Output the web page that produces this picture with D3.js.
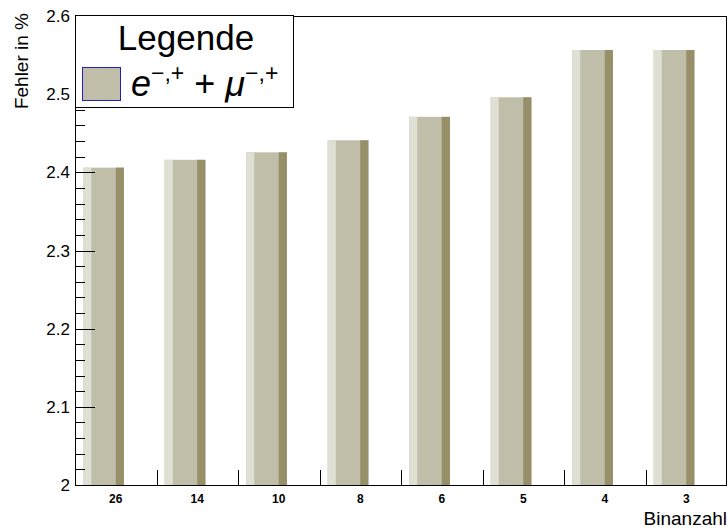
<!DOCTYPE html>
<html>
<head>
<meta charset="utf-8">
<script src="https://cdn.jsdelivr.net/npm/d3@7"></script>
<style>
  body { margin: 0; background: #fff; }
  svg { display: block; font-family: "Liberation Sans", Arial, sans-serif; }
</style>
</head>
<body>
<div id="chart"></div>
<script>
// data
var bins = ['26', '14', '10', '8', '6', '5', '4', '3'];
var fehler = [2.406, 2.416, 2.4256, 2.441, 2.471, 2.496, 2.5565, 2.5565];
var yTicks = [2, 2.1, 2.2, 2.3, 2.4, 2.5, 2.6];

var w = 728, h = 529;
var pL = 75, pR = 727, pT = 16, pB = 485;

var cMain = 'rgb(192,190,168)';
var cLight = 'rgb(223,223,212)';
var cDark = 'rgb(150,143,104)';

var svg = d3.select('#chart').append('svg').attr('width', w).attr('height', h);

var x = d3.scaleBand().domain(bins).range([pL, pR]).padding(0);
var y = d3.scaleLinear().domain([2, 2.6]).range([pB, pT]);

// bars: offset 0.1, width 0.5 of bin, left light / right dark bevel
var bw = x.bandwidth();
var bars = svg.append('g').selectAll('g').data(bins).enter().append('g');
bars.append('rect')
	.attr('x', function(d) { return x(d) + 0.1 * bw; })
	.attr('y', function(d, i) { return y(fehler[i]); })
	.attr('width', 0.5 * bw)
	.attr('height', function(d, i) { return pB - y(fehler[i]); })
	.attr('fill', cMain);
bars.append('rect')
	.attr('x', function(d) { return x(d) + 0.1 * bw; })
	.attr('y', function(d, i) { return y(fehler[i]); })
	.attr('width', 0.5 * bw * 0.2)
	.attr('height', function(d, i) { return pB - y(fehler[i]); })
	.attr('fill', cLight);
bars.append('rect')
	.attr('x', function(d) { return x(d) + 0.1 * bw + 0.5 * bw * 0.8; })
	.attr('y', function(d, i) { return y(fehler[i]); })
	.attr('width', 0.5 * bw * 0.2)
	.attr('height', function(d, i) { return pB - y(fehler[i]); })
	.attr('fill', cDark);

// frame
svg.append('rect')
	.attr('x', pL + 0.5).attr('y', pT + 0.5)
	.attr('width', pR - pL - 1).attr('height', pB - pT)
	.attr('fill', 'none').attr('stroke', '#000').attr('stroke-width', 1);

// y axis: majors 0.1, minors 0.02
var minor = d3.range(0, 31).map(function(i) { return 2 + i * 0.02; });
var yAxis = svg.append('g').attr('transform', 'translate(' + pL + ',0)');
yAxis.selectAll('line.minor').data(minor).enter().append('line')
	.attr('class', 'minor')
	.attr('x1', 0).attr('x2', 10)
	.attr('y1', function(d) { return Math.round(y(d)) + 0.5; })
	.attr('y2', function(d) { return Math.round(y(d)) + 0.5; })
	.attr('stroke', '#000');
yAxis.selectAll('line.major').data(yTicks).enter().append('line')
	.attr('class', 'major')
	.attr('x1', 0).attr('x2', 20)
	.attr('y1', function(d) { return Math.round(y(d)) + 0.5; })
	.attr('y2', function(d) { return Math.round(y(d)) + 0.5; })
	.attr('stroke', '#000');
yAxis.selectAll('text').data(yTicks).enter().append('text')
	.attr('x', -5)
	.attr('y', function(d) { return y(d) + 6; })
	.attr('text-anchor', 'end')
	.attr('font-size', '17px')
	.text(function(d) { return d === 2 ? '2' : d3.format('.1f')(d); });

// x axis ticks at bin edges
var edges = bins.slice(1);
svg.append('g').selectAll('line').data(edges).enter().append('line')
	.attr('x1', function(d) { return Math.round(x(d)) + 0.5; })
	.attr('x2', function(d) { return Math.round(x(d)) + 0.5; })
	.attr('y1', pB).attr('y2', pB - 15)
	.attr('stroke', '#000');
svg.append('g').selectAll('text').data(bins).enter().append('text')
	.attr('x', function(d) { return x(d) + bw / 2; })
	.attr('y', 503)
	.attr('text-anchor', 'middle')
	.attr('font-size', '12px')
	.attr('font-weight', 'bold')
	.text(function(d) { return d; });

// axis titles
svg.append('text')
	.attr('x', 727).attr('y', 525)
	.attr('text-anchor', 'end')
	.attr('font-size', '19px')
	.text('Binanzahl');
svg.append('text')
	.attr('transform', 'translate(28,13) rotate(-90)')
	.attr('text-anchor', 'end')
	.attr('font-size', '19px')
	.text('Fehler in %');

// legend
var lg = svg.append('g');
lg.append('rect')
	.attr('x', 75.5).attr('y', 15.5).attr('width', 218).attr('height', 92)
	.attr('fill', '#fff').attr('stroke', '#000');
lg.append('text')
	.attr('x', 186).attr('y', 50)
	.attr('text-anchor', 'middle')
	.attr('font-size', '35px')
	.text('Legende');
lg.append('rect')
	.attr('x', 82.5).attr('y', 67.5).attr('width', 38).attr('height', 33)
	.attr('fill', cMain).attr('stroke', '#2020c0');
var lt = lg.append('text')
	.attr('x', 131).attr('y', 96)
	.attr('font-size', '36px');
lt.append('tspan').attr('font-style', 'italic').text('e');
lt.append('tspan').attr('dy', -15).attr('font-size', '23px').text('\u2212,+');
lt.append('tspan').attr('dy', 15).text(' + ');
lt.append('tspan').attr('font-style', 'italic').text('\u03bc');
lt.append('tspan').attr('dy', -15).attr('font-size', '23px').text('\u2212,+');
</script>
</body>
</html>
